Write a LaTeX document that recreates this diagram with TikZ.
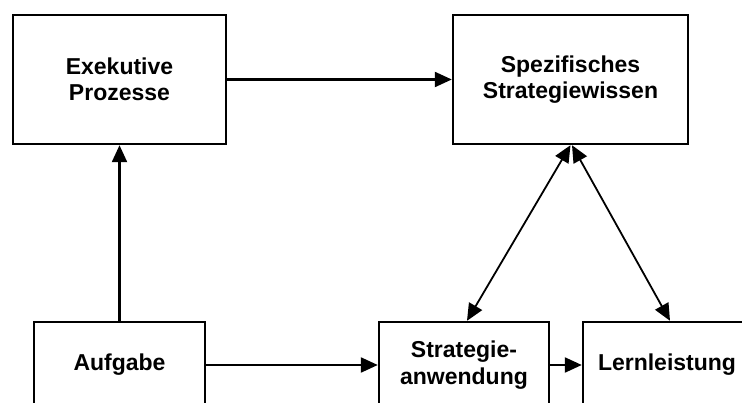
\documentclass[tikz,border=0pt]{standalone}
\usepackage{fontspec}
\setmainfont{Liberation Sans}
\usetikzlibrary{arrows.meta,calc}
\begin{document}
\begin{tikzpicture}[x=1pt,y=-1pt,
  box/.style={draw,line width=2.4pt,rectangle,align=center,inner sep=0pt,
    font=\fontsize{23}{26.5}\selectfont\bfseries},
  conn/.style={line width=2.2pt,-{Triangle[length=17pt,width=15pt]}},
  dconn/.style={line width=1.8pt,{Triangle[length=17pt,width=15pt]}-{Triangle[length=17pt,width=15pt]}}]
\useasboundingbox (0,0) rectangle (742,403);
\clip (0,0) rectangle (742,403);
\node[box,minimum width=213pt,minimum height=129pt] (exe) at (119.5,79.5) {Exekutive\\Prozesse};
\node[box,minimum width=235pt,minimum height=129pt] (spe) at (570.5,79.5) {Spezifisches\\Strategiewissen};
\node[box,minimum width=171pt,minimum height=86pt] (auf) at (119.5,365) {Aufgabe};
\node[box,minimum width=170pt,minimum height=86pt] (str) at (464,365) {Strategie-\\anwendung};
\node[box,minimum width=168pt,minimum height=86pt] (ler) at (667,365) {\raisebox{4pt}{Lernleistung}};
\draw[conn] (exe.east) -- (spe.west);
\draw[conn] (auf.north) -- (exe.south);
\draw[conn] (auf.east) -- (str.west);
\draw[conn] (str.east) -- (ler.west);
\draw[dconn] (spe.south) -- ($(str.north)+(3,0)$);
\draw[dconn] ($(spe.south)+(1.5,0)$) -- ($(ler.north)+(3,0)$);
\end{tikzpicture}
\end{document}
